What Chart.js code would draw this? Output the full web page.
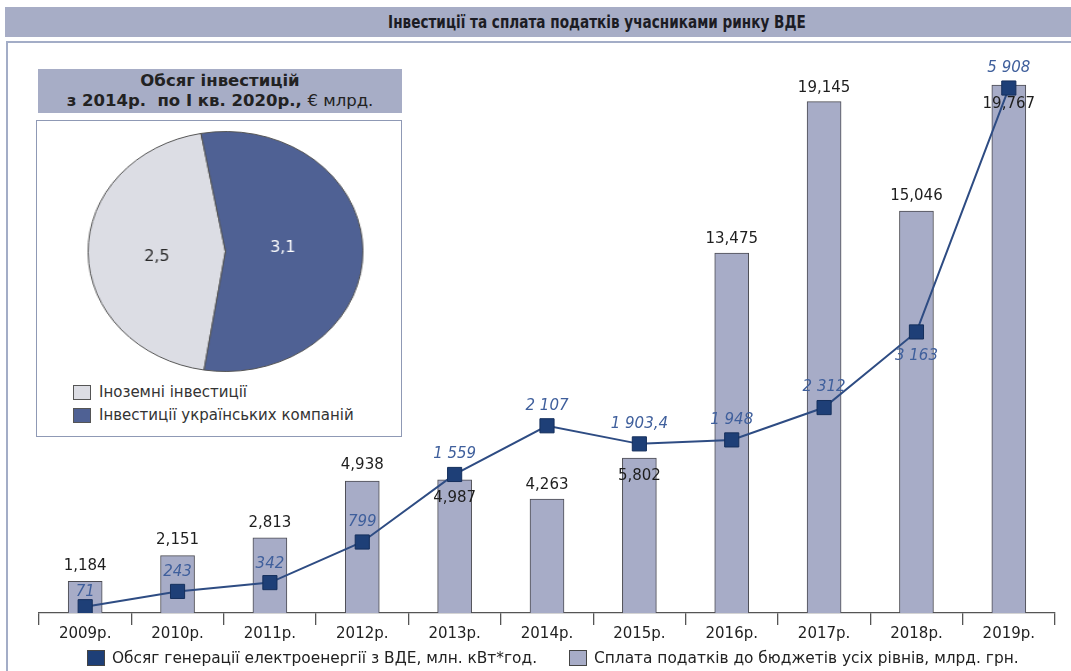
<!DOCTYPE html>
<html lang="uk">
<head>
<meta charset="utf-8">
<title>Інвестиції та сплата податків учасниками ринку ВДЕ</title>
<script src="https://cdn.jsdelivr.net/npm/chart.js@4.4.1/dist/chart.umd.min.js"></script>
<style>
  body { margin: 0; width: 1071px; height: 671px; position: relative; overflow: hidden; background: #fff;
         font-family: "DejaVu Sans", Arial, sans-serif; color: #222; }
  .title { position: absolute; left: 5px; top: 7px; width: 1066px; height: 30px; background: #a7adc6; }
  .title span { position: absolute; left: 592px; top: 0; transform: translateX(-50%) scaleX(0.89); white-space: nowrap;
                font: bold 17px "DejaVu Sans Condensed", "DejaVu Sans", sans-serif; color: #1c1c24; line-height: 30px; }
  .frame { position: absolute; left: 6px; top: 41px; width: 1090px; height: 650px; border: 2px solid #a3adc7; }
  #main { position: absolute; left: 0; top: 0; }
  .inset-head { position: absolute; left: 38px; top: 69px; width: 364px; height: 44px; background: #a7adc6;
                text-align: center; font-weight: bold; font-size: 16.5px; line-height: 20px; padding-top: 2px; box-sizing: border-box; }
  .inset-head span { font-weight: normal; }
  .inset-box { position: absolute; left: 36px; top: 120px; width: 366px; height: 317px; background: #fff;
               border: 1.5px solid #8f99b5; box-sizing: border-box; }
  #pie { position: absolute; left: 104px; top: 130px; transform: scaleX(1.145); transform-origin: 50% 50%; }
  .pie-legend { position: absolute; left: 73px; font-size: 15px; color: #333; line-height: 18px; }
  .pie-legend i { display: inline-block; width: 18px; height: 15px; border: 1px solid #555; vertical-align: -3px; margin-right: 8px; box-sizing: border-box; }
  .legend { position: absolute; top: 649px; font-size: 15.4px; color: #222; line-height: 18px; white-space: nowrap; }
  .legend i { display: inline-block; width: 18px; height: 16px; border: 1px solid #444; vertical-align: -3px; margin-right: 7px; box-sizing: border-box; }
</style>
</head>
<body>
<div class="title"><span>Інвестиції та сплата податків учасниками ринку ВДЕ</span></div>
<div class="frame"></div>
<canvas id="main" width="1071" height="671"></canvas>

<div class="inset-head">Обсяг інвестицій<br>з 2014р.&nbsp; по І кв. 2020р., <span>€ млрд.</span></div>
<div class="inset-box"></div>
<canvas id="pie" width="243" height="243"></canvas>
<div class="pie-legend" id="pieLegend" style="top:383px"></div>

<div class="legend" id="legGen" style="left:87px"></div>
<div class="legend" id="legTax" style="left:569px"></div>

<script>
// Роки
const years = ['2009р.', '2010р.', '2011р.', '2012р.', '2013р.', '2014р.', '2015р.', '2016р.', '2017р.', '2018р.', '2019р.'];
// Сплата податків до бюджетів усіх рівнів, млрд. грн.
const taxPayments = [1.184, 2.151, 2.813, 4.938, 4.987, 4.263, 5.802, 13.475, 19.145, 15.046, 19.767];
// Обсяг генерації електроенергії з ВДЕ, млн. кВт*год.
const generation = [71, 243, 342, 799, 1559, 2107, 1903.4, 1948, 2312, 3163, 5908];
// Обсяг інвестицій з 2014р. по І кв. 2020р., € млрд.
const investLabels = ['Іноземні інвестиції', 'Інвестиції українських компаній'];
const investValues = [2.5, 3.1];

const genLabel = 'Обсяг генерації електроенергії з ВДЕ, млн. кВт*год.';
const taxLabel = 'Сплата податків до бюджетів усіх рівнів, млрд. грн.';

const FONT = '"DejaVu Sans", Arial, sans-serif';
const BAR_FILL = '#a7acc7';
const NAVY = '#1e3f77';
const LINE = '#2e4c83';
const LINE_TEXT = '#3f5f9c';
const PIE_COLORS = ['#dcdde4', '#4f6194'];

// зсув підписів відносно вершини стовпця / маркера (px)
const barLabelDy = [-15, -15, -15, -16, 18, -14, 18, -14, -14, -15, 19];
const lineLabelDy = [-15, -19, -19, -20, -20, -20, -20, -20, -20, 24, -20];

function fmtBar(v) {
  return v.toFixed(3).replace('.', ',');
}
function fmtGen(v) {
  const [int, dec] = String(v).split('.');
  const grouped = int.replace(/\B(?=(\d{3})+(?!\d))/g, ' ');
  return dec ? grouped + ',' + dec : grouped;
}

const valueLabels = {
  id: 'valueLabels',
  afterDatasetsDraw(chart) {
    const ctx = chart.ctx;
    ctx.save();
    ctx.textAlign = 'center';
    ctx.textBaseline = 'middle';

    ctx.font = '15px ' + FONT;
    ctx.fillStyle = '#1e1e1e';
    chart.getDatasetMeta(1).data.forEach((bar, i) => {
      ctx.fillText(fmtBar(taxPayments[i]), bar.x, bar.y + barLabelDy[i]);
    });

    ctx.font = 'italic 15px ' + FONT;
    ctx.fillStyle = LINE_TEXT;
    chart.getDatasetMeta(0).data.forEach((pt, i) => {
      ctx.fillText(fmtGen(generation[i]), pt.x, pt.y + lineLabelDy[i]);
    });
    ctx.restore();
  }
};

new Chart(document.getElementById('main'), {
  data: {
    labels: years,
    datasets: [
      {
        type: 'line',
        label: genLabel,
        data: generation,
        yAxisID: 'y2',
        order: 0,
        borderColor: LINE,
        borderWidth: 2,
        tension: 0,
        pointStyle: 'rect',
        pointRadius: 10,
        pointBackgroundColor: NAVY,
        pointBorderColor: '#152f5c',
        pointBorderWidth: 1
      },
      {
        type: 'bar',
        label: taxLabel,
        data: taxPayments,
        yAxisID: 'y',
        order: 1,
        backgroundColor: BAR_FILL,
        borderColor: '#4b4b52',
        borderWidth: 1,
        barThickness: 34
      }
    ]
  },
  options: {
    responsive: false,
    animation: false,
    layout: { padding: { left: 39, right: 16, top: 50, bottom: 18 } },
    plugins: { legend: { display: false }, tooltip: { enabled: false } },
    scales: {
      x: {
        offset: true,
        grid: { offset: true, drawOnChartArea: false, drawTicks: true, tickLength: 12, color: '#555', lineWidth: 1.3 },
        border: { display: true, color: '#555', width: 1.3 },
        ticks: { color: '#222', font: { size: 15, family: FONT }, padding: 0, maxRotation: 0 },
        afterFit(scale) { scale.height = 40; }
      },
      y: { display: false, min: 0, max: 21.08 },
      y2: { display: false, min: 0, max: 6336 }
    }
  },
  plugins: [valueLabels]
});

// Кругова діаграма: підписи малюються без горизонтального розтягу
const PIE_STRETCH = 1.145;
const pieLabelShift = [[0, 5], [-10, -3]];
const pieLabels = {
  id: 'pieLabels',
  afterDatasetsDraw(chart) {
    const ctx = chart.ctx;
    ctx.save();
    ctx.textAlign = 'center';
    ctx.textBaseline = 'middle';
    ctx.font = '16px ' + FONT;
    chart.getDatasetMeta(0).data.forEach((arc, i) => {
      const p = arc.tooltipPosition();
      ctx.save();
      ctx.translate(p.x + pieLabelShift[i][0], p.y + pieLabelShift[i][1]);
      ctx.scale(1 / PIE_STRETCH, 1);
      ctx.fillStyle = i === 0 ? '#2a2a2a' : '#fff';
      ctx.fillText(String(investValues[i]).replace('.', ','), 0, 0);
      ctx.restore();
    });
    ctx.restore();
  }
};

new Chart(document.getElementById('pie'), {
  type: 'pie',
  data: {
    labels: investLabels,
    datasets: [{
      data: investValues,
      backgroundColor: PIE_COLORS,
      borderColor: '#555',
      borderWidth: 1
    }]
  },
  options: {
    responsive: false,
    animation: false,
    rotation: 189,
    layout: { padding: 1 },
    plugins: { legend: { display: false }, tooltip: { enabled: false } }
  },
  plugins: [pieLabels]
});

document.getElementById('pieLegend').innerHTML = investLabels
  .map((t, i) => `<div style="margin-bottom:5px"><i style="background:${PIE_COLORS[i]}"></i>${t}</div>`)
  .join('');
document.getElementById('legGen').innerHTML = `<i style="background:${NAVY}"></i>${genLabel}`;
document.getElementById('legTax').innerHTML = `<i style="background:${BAR_FILL}"></i>${taxLabel}`;
</script>
</body>
</html>
